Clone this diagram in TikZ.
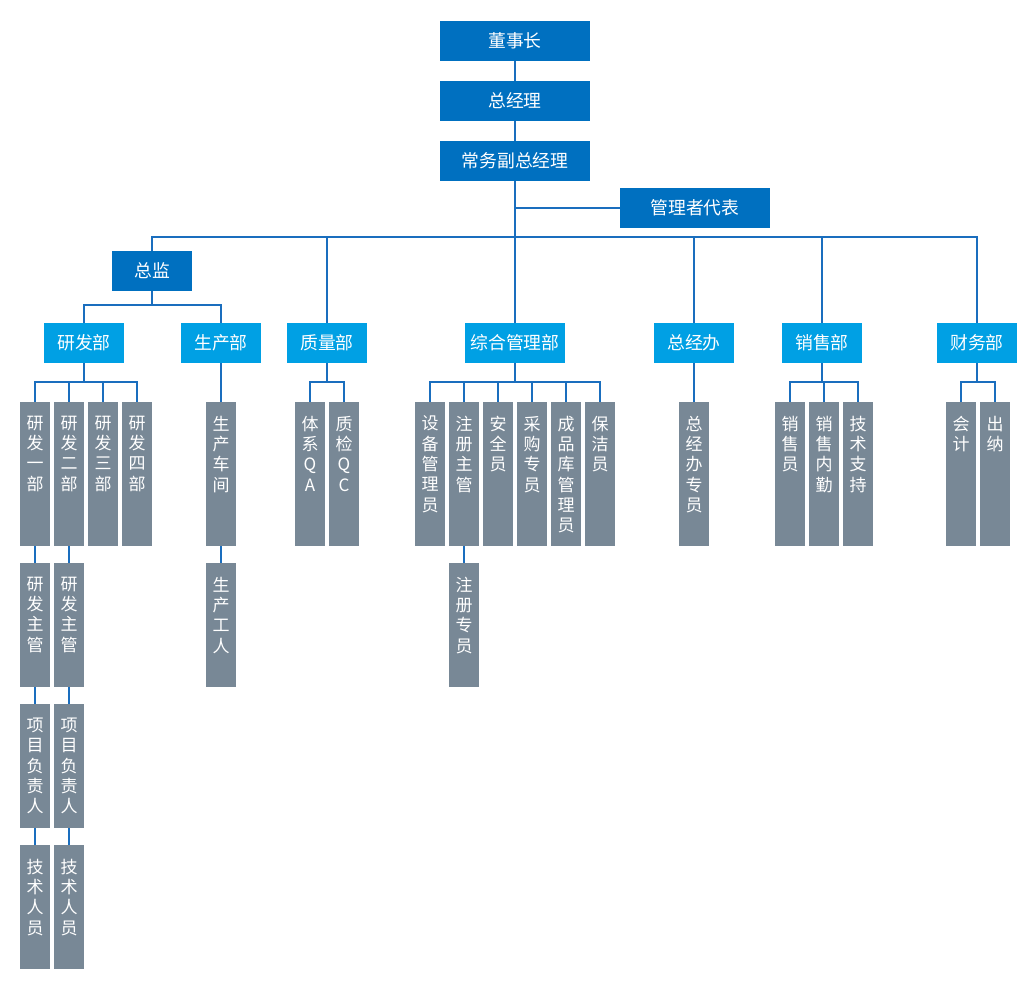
\documentclass[tikz,border=0pt]{standalone}
\usepackage{fontspec}
\newfontfamily\cjk{Noto Sans CJK SC}
\usetikzlibrary{positioning}
\definecolor{leadblue}{RGB}{0,112,192}
\definecolor{deptblue}{RGB}{0,160,228}
\definecolor{staffgray}{RGB}{120,136,150}
\definecolor{linkblue}{RGB}{26,110,190}
\newcommand{\vt}[2]{\parbox[t][#1pt][t]{30pt}{\centering\vspace*{14pt}#2}}

\begin{document}
\begin{tikzpicture}[x=1pt,y=-1pt,
  every node/.style={font=\cjk\fontsize{17}{20.3}\selectfont,outer sep=0pt},
  lead/.style={fill=leadblue,text=white,minimum width=150pt,minimum height=40pt,inner sep=0pt,
    font=\cjk\fontsize{17.8}{20}\selectfont},
  dept/.style={fill=deptblue,text=white,minimum width=80pt,minimum height=40pt,inner sep=0pt,
    font=\cjk\fontsize{17.8}{20}\selectfont},
  staff/.style={fill=staffgray,text=white,inner sep=0pt,anchor=north west},
  link/.style={draw=linkblue,line width=1.2pt}]
\useasboundingbox (0,0) rectangle (1030,989);

% leitung
\node[lead] (dsz) at (515,41) {董事长};
\node[lead,below=20pt of dsz] (zjl) {总经理};
\node[lead,below=20pt of zjl] (cwf) {常务副总经理};
\node[lead] (glz) at (695,208) {管理者代表};
\node[lead,minimum width=80pt] (zj) at (152,271) {总监};

% abteilungen
\node[dept] (yfb) at (84,343) {研发部};
\node[dept] (scb) at (221,343) {生产部};
\node[dept] (zlb) at (327,343) {质量部};
\node[dept,minimum width=100pt] (zhb) at (515,343) {综合管理部};
\node[dept] (zjb) at (694,343) {总经办};
\node[dept] (xsb) at (822,343) {销售部};
\node[dept] (cwb) at (977,343) {财务部};

% mitarbeiter
\node[staff] (yf1) at (20,402) {\vt{144}{研\\发\\一\\部}};
\node[staff,right=4pt of yf1] (yf2) {\vt{144}{研\\发\\二\\部}};
\node[staff,right=4pt of yf2] (yf3) {\vt{144}{研\\发\\三\\部}};
\node[staff,right=4pt of yf3] (yf4) {\vt{144}{研\\发\\四\\部}};
\node[staff,below=17pt of yf1] (yz1) {\vt{124}{研\\发\\主\\管}};
\node[staff,below=17pt of yf2] (yz2) {\vt{124}{研\\发\\主\\管}};
\node[staff,below=17pt of yz1] (xm1) {\vt{124}{项\\目\\负\\责\\人}};
\node[staff,below=17pt of yz2] (xm2) {\vt{124}{项\\目\\负\\责\\人}};
\node[staff,below=17pt of xm1] (js1) {\vt{124}{技\\术\\人\\员}};
\node[staff,below=17pt of xm2] (js2) {\vt{124}{技\\术\\人\\员}};

\node[staff] (sc1) at (206,402) {\vt{144}{生\\产\\车\\间}};
\node[staff,below=17pt of sc1] (sc2) {\vt{124}{生\\产\\工\\人}};

\node[staff] (zl1) at (295,402) {\vt{144}{体\\系\\Q\\A}};
\node[staff,right=4pt of zl1] (zl2) {\vt{144}{质\\检\\Q\\C}};

\node[staff] (zh1) at (415,402) {\vt{144}{设\\备\\管\\理\\员}};
\node[staff,right=4pt of zh1] (zh2) {\vt{144}{注\\册\\主\\管}};
\node[staff,right=4pt of zh2] (zh3) {\vt{144}{安\\全\\员}};
\node[staff,right=4pt of zh3] (zh4) {\vt{144}{采\\购\\专\\员}};
\node[staff,right=4pt of zh4] (zh5) {\vt{144}{成\\品\\库\\管\\理\\员}};
\node[staff,right=4pt of zh5] (zh6) {\vt{144}{保\\洁\\员}};
\node[staff,below=17pt of zh2] (zc1) {\vt{124}{注\\册\\专\\员}};

\node[staff] (jb1) at (679,402) {\vt{144}{总\\经\\办\\专\\员}};

\node[staff] (xs1) at (775,402) {\vt{144}{销\\售\\员}};
\node[staff,right=4pt of xs1] (xs2) {\vt{144}{销\\售\\内\\勤}};
\node[staff,right=4pt of xs2] (xs3) {\vt{144}{技\\术\\支\\持}};

\node[staff] (cw1) at (946,402) {\vt{144}{会\\计}};
\node[staff,right=4pt of cw1] (cw2) {\vt{144}{出\\纳}};

% linien
\draw[link] (dsz) -- (zjl) -- (cwf);
\draw[link] (cwf.south) |- (glz.west);
\foreach \d in {zj,zlb,zhb,zjb,xsb,cwb}
  \draw[link] (cwf.south) -- ++(0,56) -| (\d.north);
\foreach \d in {yfb,scb}
  \draw[link] (zj.south) -- ++(0,14) -| (\d.north);
\foreach \s in {yf1,yf2,yf3,yf4}
  \draw[link] (yfb.south) -- ++(0,19) -| (\s.north);
\foreach \s in {zl1,zl2}
  \draw[link] (zlb.south) -- ++(0,19) -| (\s.north);
\foreach \s in {zh1,zh2,zh3,zh4,zh5,zh6}
  \draw[link] (zhb.south) -- ++(0,19) -| (\s.north);
\foreach \s in {xs1,xs2,xs3}
  \draw[link] (xsb.south) -- ++(0,19) -| (\s.north);
\foreach \s in {cw1,cw2}
  \draw[link] (cwb.south) -- ++(0,19) -| (\s.north);
\draw[link] (scb) -- (sc1) -- (sc2);
\draw[link] (zjb) -- (jb1);
\draw[link] (zh2) -- (zc1);
\draw[link] (yf1) -- (yz1) -- (xm1) -- (js1);
\draw[link] (yf2) -- (yz2) -- (xm2) -- (js2);
\end{tikzpicture}
\end{document}
